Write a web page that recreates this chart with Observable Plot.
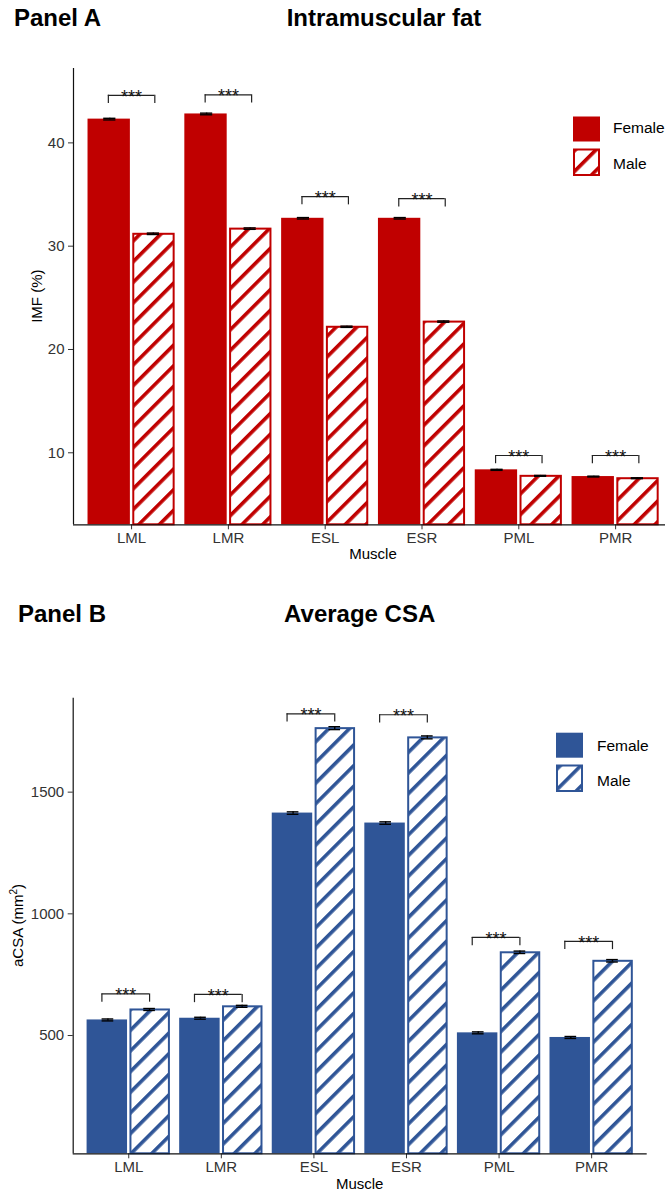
<!DOCTYPE html>
<html>
<head>
<meta charset="utf-8">
<script src="https://cdn.jsdelivr.net/npm/d3@7"></script>
<script src="https://cdn.jsdelivr.net/npm/@observablehq/plot@0.6"></script>
<style>
  html, body { margin: 0; padding: 0; background: #fff; }
  #wrap { position: relative; width: 665px; height: 1191px; overflow: hidden; background: #fff; }
  #wrap svg { position: absolute; left: 0; max-width: none !important; }
</style>
</head>
<body>
<div id="wrap"></div>
<script>
// Muscles on the x axis
const muscles = ["LML", "LMR", "ESL", "ESR", "PML", "PMR"];
const sexes = ["Female", "Male"];

// Panel A: intramuscular fat (%), mean and standard error
const imfFemale = [42.3, 42.8, 32.7, 32.7, 8.35, 7.7];
const imfMale = [31.2, 31.7, 22.2, 22.7, 7.77, 7.54];
const imfFemaleSE = [0.08, 0.08, 0.07, 0.07, 0.05, 0.04];
const imfMaleSE = [0.07, 0.07, 0.06, 0.06, 0.04, 0.04];
const imfBracket = [44.6, 44.65, 34.8, 34.6, 9.74, 9.74];
const imfSignif = ["***", "***", "***", "***", "***", "***"];
const imfTicks = [10, 20, 30, 40];

// Panel B: average cross-sectional area (mm²), mean and standard error
const csaFemale = [564, 571, 1414, 1373, 511, 492];
const csaMale = [607, 620, 1763, 1725, 842, 807];
const csaFemaleSE = [4, 4, 5, 5, 4, 4];
const csaMaleSE = [4, 4, 6, 6, 5, 5];
const csaBracket = [671, 669, 1822, 1818, 903, 887];
const csaSignif = ["***", "***", "***", "***", "***", "***"];
const csaTicks = [500, 1000, 1500];

const FONT = '"Liberation Sans", Arial, Helvetica, sans-serif';
const wrap = document.getElementById("wrap");

function rowsOf(values, se, sex) {
  return values.map((v, i) => ({i, muscle: muscles[i], sex, value: v, se: se[i]}));
}

function panel(cfg) {
  const female = rowsOf(cfg.female, cfg.femaleSE, "Female");
  const male = rowsOf(cfg.male, cfg.maleSE, "Male");
  const both = female.concat(male);
  const center = d => d.sex === "Female" ? d.i - 0.225 : d.i + 0.225;
  const brackets = cfg.bracket.map((y, i) => ({i, y, label: cfg.signif[i]}));
  const [y0, y1] = cfg.yDomain;
  const eb = 0.063;

  const svg = Plot.plot({
    width: cfg.width,
    height: cfg.height,
    marginTop: cfg.marginTop,
    marginBottom: cfg.marginBottom,
    marginLeft: cfg.marginLeft,
    marginRight: cfg.marginRight,
    style: {fontFamily: FONT, fontSize: "14px", background: "white", overflow: "visible", maxWidth: "none"},
    x: {domain: [-0.6, 5.6], axis: null},
    y: {domain: cfg.yDomain, axis: null},
    marks: [
      // Female bars: solid fill
      Plot.rectY(female, {x1: d => d.i - 0.45, x2: d => d.i, y1: y0, y2: "value",
        fill: cfg.color, insetRight: 1.2}),
      // Male bars: hatched fill with coloured outline
      Plot.rectY(male, {x1: d => d.i, x2: d => d.i + 0.45, y1: y0, y2: "value",
        fill: `url(#${cfg.patternId})`, stroke: cfg.color, strokeWidth: 2,
        insetLeft: 2.2, insetRight: 1, insetTop: 0.5}),
      // Error bars
      Plot.ruleY(both, {x1: d => center(d) - eb, x2: d => center(d) + eb, y: d => d.value + d.se,
        stroke: "#000", strokeWidth: 1.4}),
      Plot.ruleY(both, {x1: d => center(d) - eb, x2: d => center(d) + eb, y: d => d.value - d.se,
        stroke: "#000", strokeWidth: 1.4}),
      Plot.ruleX(both, {x: center, y1: d => d.value - d.se, y2: d => d.value + d.se,
        stroke: "#000", strokeWidth: 1.4}),
      // Significance brackets
      Plot.ruleY(brackets, {x1: d => d.i + cfg.brLeft, x2: d => d.i + cfg.brRight, y: "y",
        stroke: "#222", strokeWidth: 1.2}),
      Plot.ruleX(brackets, {x: d => d.i + cfg.brLeft, y1: d => d.y - cfg.tip, y2: "y",
        stroke: "#222", strokeWidth: 1.2}),
      Plot.ruleX(brackets, {x: d => d.i + cfg.brRight, y1: d => d.y - cfg.tip, y2: "y",
        stroke: "#222", strokeWidth: 1.2}),
      Plot.text(brackets, {x: d => d.i + (cfg.brLeft + cfg.brRight) / 2, y: "y", text: "label",
        lineAnchor: "bottom", dy: 7.5, fontSize: 18, fill: "#111"}),
      // Axes
      Plot.axisY({ticks: cfg.yTicks, tickFormat: d => String(d), tickSize: 5, tickPadding: 4,
        label: null, fontSize: 15, color: "#333"}),
      Plot.axisX({ticks: d3.range(muscles.length), tickFormat: i => muscles[i],
        tickSize: 5, tickPadding: 3, label: null, fontSize: 15, color: "#333"}),
      Plot.ruleX([-0.6], {y1: y0, y2: y1, stroke: "#111", strokeWidth: 1.2}),
      Plot.ruleY([y0], {x1: -0.6, x2: 5.6, stroke: "#111", strokeWidth: 1.2})
    ]
  });

  svg.style.top = cfg.top + "px";
  svg.style.maxWidth = "none";
  const s = d3.select(svg);

  // Diagonal stripe pattern for the male bars
  const pat = s.insert("defs", ":first-child").append("pattern")
    .attr("id", cfg.patternId)
    .attr("patternUnits", "userSpaceOnUse")
    .attr("width", 14.6).attr("height", 14.6)
    .attr("patternTransform", "rotate(45)");
  pat.append("rect").attr("width", 14.6).attr("height", 14.6).attr("fill", "white");
  pat.append("rect").attr("x", 0).attr("y", 0).attr("width", 3.6).attr("height", 14.6)
    .attr("fill", cfg.color);

  const txt = (parent, x, y, size, anchor) => parent.append("text")
    .attr("x", x).attr("y", y)
    .attr("text-anchor", anchor)
    .attr("font-family", FONT).attr("font-size", size).attr("fill", "#000");

  // Titles
  txt(s, cfg.panelX, cfg.titleY, 24, "start").attr("font-weight", "bold").text(cfg.panelName);
  txt(s, cfg.titleX, cfg.titleY, 24, "middle").attr("font-weight", "bold").text(cfg.title);

  // Axis titles
  const yl = s.append("text")
    .attr("transform", `translate(${cfg.yLabelX},${cfg.yLabelY}) rotate(-90)`)
    .attr("text-anchor", "middle")
    .attr("font-family", FONT).attr("font-size", 15).attr("fill", "#000");
  cfg.yLabel(yl);
  txt(s, cfg.xLabelX, cfg.xLabelY, 15, "middle").text("Muscle");

  // Legend
  const lg = s.append("g");
  lg.append("rect").attr("x", cfg.legX).attr("y", cfg.legFemaleY)
    .attr("width", 27).attr("height", 25).attr("fill", cfg.color);
  lg.append("rect").attr("x", cfg.legX + 1).attr("y", cfg.legMaleY + 1)
    .attr("width", 25).attr("height", 25.5)
    .attr("fill", `url(#${cfg.patternId})`).attr("stroke", cfg.color).attr("stroke-width", 2);
  txt(lg, cfg.legTextX, cfg.legFemaleText, 15.5, "start").text(sexes[0]);
  txt(lg, cfg.legTextX, cfg.legMaleText, 15.5, "start").text(sexes[1]);

  wrap.appendChild(svg);
}

panel({
  top: 0, width: 700, height: 580,
  marginTop: 68, marginBottom: 55.7, marginLeft: 73, marginRight: 26.8,
  yDomain: [3.03, 47.2], yTicks: imfTicks,
  female: imfFemale, male: imfMale, femaleSE: imfFemaleSE, maleSE: imfMaleSE,
  bracket: imfBracket, signif: imfSignif, tip: 0.8, brLeft: -0.24, brRight: 0.24,
  color: "#C00000", patternId: "hatchRed",
  panelName: "Panel A", panelX: 14, title: "Intramuscular fat", titleX: 384, titleY: 26,
  yLabel: t => t.text("IMF (%)"), yLabelX: 42, yLabelY: 296.2,
  xLabelX: 373, xLabelY: 558.5,
  legX: 573, legFemaleY: 116.5, legMaleY: 148.5, legTextX: 613,
  legFemaleText: 133, legMaleText: 169
});

panel({
  top: 580, width: 665, height: 611,
  marginTop: 117.7, marginBottom: 37.7, marginLeft: 72.7, marginRight: 18.3,
  yDomain: [14, 1886], yTicks: csaTicks,
  female: csaFemale, male: csaMale, femaleSE: csaFemaleSE, maleSE: csaMaleSE,
  bracket: csaBracket, signif: csaSignif, tip: 34, brLeft: -0.29, brRight: 0.225,
  color: "#2F5597", patternId: "hatchBlue",
  panelName: "Panel B", panelX: 18, title: "Average CSA", titleX: 359.7, titleY: 42.3,
  yLabel: t => {
    t.append("tspan").text("aCSA (mm");
    t.append("tspan").attr("font-size", 10).attr("dy", -6).text("2");
    t.append("tspan").attr("dy", 6).text(")");
  },
  yLabelX: 22.5, yLabelY: 345.5,
  xLabelX: 359.7, xLabelY: 608.8,
  legX: 556, legFemaleY: 152.7, legMaleY: 184.5, legTextX: 597,
  legFemaleText: 170.7, legMaleText: 205.7
});
</script>
</body>
</html>
